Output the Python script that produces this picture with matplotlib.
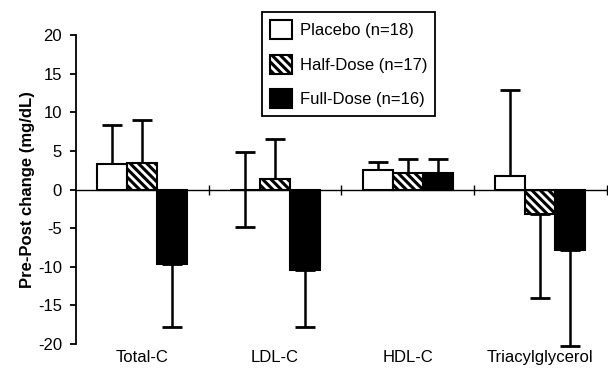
import numpy as np
import matplotlib as mpl
import matplotlib.pyplot as plt

categories = ['Total-C', 'LDL-C', 'HDL-C', 'Triacylglycerol']
groups = ['Placebo (n=18)', 'Half-Dose (n=17)', 'Full-Dose (n=16)']

# mean pre-post change (mg/dL)
placebo = [3.3, 0.0, 2.5, 1.7]
half_dose = [3.4, 1.4, 2.2, -3.2]
full_dose = [-9.6, -10.4, 2.1, -7.8]

# error bar lengths
placebo_err = [5.0, 4.9, 1.0, 11.2]
half_err = [5.6, 5.2, 1.7, 10.9]
full_err = [8.2, 7.4, 1.9, 12.4]

# configuration
mpl.rcParams['font.family'] = ['Liberation Sans', 'DejaVu Sans']
mpl.rcParams['font.size'] = 12
mpl.rcParams['hatch.linewidth'] = 2.2
mpl.rcParams['axes.linewidth'] = 1.3
mpl.rcParams['axes.unicode_minus'] = False

fig = plt.figure(figsize=(6.08, 3.76), dpi=100)
ax = fig.add_axes([0.125, 0.085, 0.873, 0.822])

x = np.arange(len(categories))
w = 0.226
series = [
    (placebo, placebo_err, 'white', ''),
    (half_dose, half_err, 'white', '\\\\\\\\'),
    (full_dose, full_err, 'black', ''),
]

for i, (vals, errs, fc, hatch) in enumerate(series):
    vals = np.array(vals)
    errs = np.array(errs)
    pos = x + (i - 1) * w
    upper = np.where(vals >= 0, errs, 0)
    lower = np.where(vals <= 0, errs, 0)
    ax.errorbar(pos, vals, yerr=[lower, upper], fmt='none', ecolor='black',
                elinewidth=1.8, capsize=7, capthick=2, zorder=1, clip_on=False)
    ax.bar(pos, vals, w, color=fc, edgecolor='black', linewidth=1.5,
           hatch=hatch, label=groups[i], zorder=2)

ax.set_xlim(-0.5, 3.5)
ax.set_ylim(-20, 20)
ax.set_yticks(np.arange(-20, 21, 5))
ax.tick_params(axis='y', direction='out', length=4, width=1.3, pad=6, labelsize=12)

# zero line acts as the x axis
ax.spines['top'].set_visible(False)
ax.spines['right'].set_visible(False)
ax.spines['bottom'].set_position(('data', 0))
ax.spines['bottom'].set_linewidth(1.0)
ax.set_xticks(np.arange(0.5, 4, 1))
ax.set_xticklabels([])
ax.tick_params(axis='x', direction='inout', length=7, width=1.0)

for xi, name in zip(x, categories):
    ax.text(xi, -0.045, name, transform=ax.get_xaxis_transform(),
            ha='center', va='center', fontsize=12)

ax.set_ylabel('Pre-Post change (mg/dL)', fontweight='bold', fontsize=12, labelpad=2)

leg = ax.legend(loc='upper left', bbox_to_anchor=(0.431, 0.968),
                bbox_transform=fig.transFigure, borderaxespad=0,
                fancybox=False, edgecolor='black', framealpha=1,
                handlelength=1.3, handleheight=1.35, labelspacing=0.95,
                handletextpad=0.45, borderpad=0.5, fontsize=12)
leg.get_frame().set_linewidth(1.3)

plt.savefig('out.png', dpi=100)
